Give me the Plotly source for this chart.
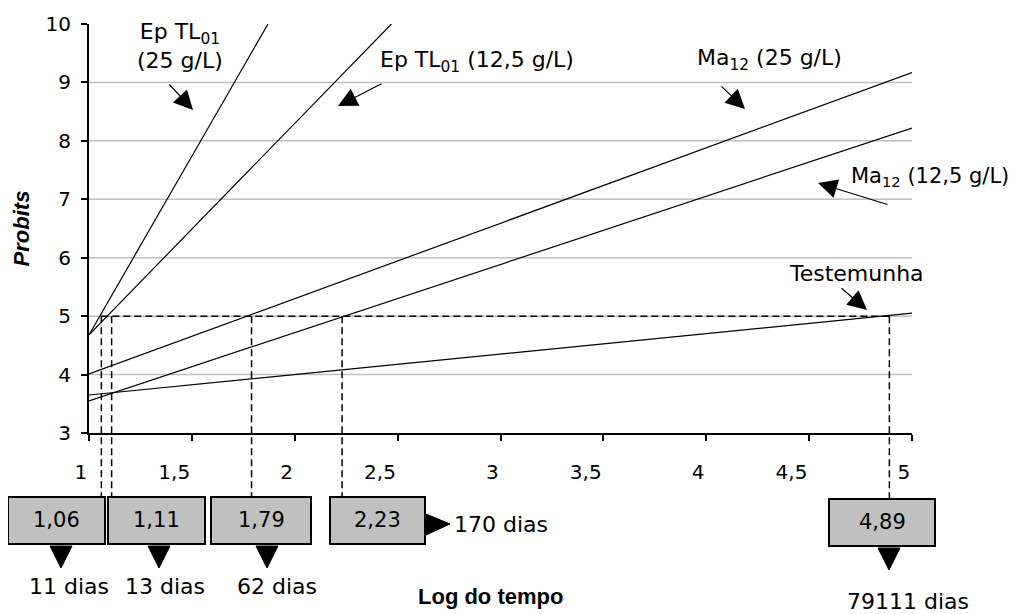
import plotly.graph_objects as go

# ---------------- data ----------------
series_names = ["Ep TL01 (25 g/L)", "Ep TL01 (12,5 g/L)", "Ma12 (25 g/L)", "Ma12 (12,5 g/L)", "Testemunha"]
x_start = [1.0, 1.0, 1.0, 1.0, 1.0]
x_end = [1.87, 2.47, 5.0, 5.0, 5.0]
y_start = [4.68, 4.68, 4.01, 3.55, 3.65]
y_end = [10.0, 10.0, 9.17, 8.22, 5.05]

ld50_values = [1.06, 1.11, 1.79, 2.23, 4.89]
ld50_days = ["11 dias", "13 dias", "62 dias", "170 dias", "79111 dias"]
probit_level = 5

x_tickvals = [1, 1.5, 2, 2.5, 3, 3.5, 4, 4.5, 5]
x_ticktext = ["1", "1,5", "2", "2,5", "3", "3,5", "4", "4,5", "5"]
y_tickvals = [3, 4, 5, 6, 7, 8, 9, 10]
grid_vals = [4, 5, 6, 7, 8, 9]

# ---------------- layout helpers (reference pixel -> paper) ----------------
OFF = 8  # page body margin
W, H = 1020 - OFF, 614 - OFF
RPL, RPR, RPT, RPB = 89, 912, 24, 433  # plot area in reference pixels


def fx(px):
    return (px - RPL) / (RPR - RPL)


def fy(py):
    return (RPB - py) / (RPB - RPT)


FONT = "DejaVu Sans"
fig = go.Figure()

for i, name in enumerate(series_names):
    fig.add_trace(go.Scatter(
        x=[x_start[i], x_end[i]], y=[y_start[i], y_end[i]],
        mode="lines", name=name, line=dict(color="black", width=1.2),
        showlegend=False, hoverinfo="skip"))

shapes = []
# grid lines
for g in grid_vals:
    shapes.append(dict(type="line", xref="x", yref="y", x0=1, x1=5, y0=g, y1=g,
                       line=dict(color="#c0c0c0", width=1.5), layer="below"))
# horizontal probit 5 dashed line
shapes.append(dict(type="line", xref="x", yref="y", x0=min(ld50_values), x1=max(ld50_values),
                   y0=probit_level, y1=probit_level,
                   line=dict(color="black", width=1.5, dash="7px,4px")))
# vertical dashed lines down to boxes
box_top = [497, 497, 497, 497, 499]
y5_paper = (probit_level - 3) / 7
for v, bt in zip(ld50_values, box_top):
    shapes.append(dict(type="line", xref="x", yref="paper", x0=v, x1=v,
                       y0=y5_paper, y1=fy(bt),
                       line=dict(color="black", width=1.5, dash="7px,4px")))

# boxes (layout positions in reference px)
box_x = [(8, 105), (108, 205), (211, 311), (330, 425), (829, 935)]
box_y = [(497, 544), (497, 544), (497, 544), (497, 544), (499, 546)]
for (x0, x1), (y0, y1) in zip(box_x, box_y):
    shapes.append(dict(type="rect", xref="paper", yref="paper",
                       x0=fx(x0), x1=fx(x1), y0=fy(y0), y1=fy(y1),
                       fillcolor="#c0c0c0", line=dict(color="black", width=2)))

# down triangles under boxes
tri_cx = [61, 159, 267, None, 889]
for cx, (y0, y1) in zip(tri_cx, box_y):
    if cx is None:
        continue
    top = y1 + 2
    bot = top + 22
    shapes.append(dict(type="path", xref="paper", yref="paper",
                       path=f"M {fx(cx-11)},{fy(top)} L {fx(cx+11)},{fy(top)} L {fx(cx)},{fy(bot)} Z",
                       fillcolor="black", line=dict(color="black", width=1)))
# right triangle after box 4
shapes.append(dict(type="path", xref="paper", yref="paper",
                   path=f"M {fx(426)},{fy(514)} L {fx(426)},{fy(535)} L {fx(450)},{fy(524)} Z",
                   fillcolor="black", line=dict(color="black", width=1)))

annotations = []


def txt(text, px, py, size=22, xanchor="center", **kw):
    annotations.append(dict(text=text, xref="paper", yref="paper", x=fx(px), y=fy(py),
                            xanchor=xanchor, yanchor="middle", showarrow=False,
                            font=dict(family=FONT, size=size, color="black"), **kw))


# box labels
box_label_c = [(56, 520), (156, 520), (261, 520), (377, 520), (882, 522)]
for v, (cx, cy) in zip(ld50_values, box_label_c):
    txt(f"{v:.2f}".replace(".", ","), cx, cy, size=21)

# day labels
day_pos = [(69, 586, "center"), (165, 586, "center"), (277, 586, "center"),
           (452, 524, "left"), (908, 601, "center")]
for d, (cx, cy, anc) in zip(ld50_days, day_pos):
    txt(d, cx, cy, size=22, xanchor=anc)

# series labels
txt("Ep TL<sub>01</sub><br>(25 g/L)", 180, 46, size=22)
txt("Ep TL<sub>01</sub> (12,5 g/L)", 477, 62, size=22)
txt("Ma<sub>12</sub> (25 g/L)", 769, 60, size=22)
txt("Ma<sub>12</sub> (12,5 g/L)", 930, 177, size=21)
txt("Testemunha", 856, 273, size=22)

# x axis title
annotations.append(dict(text="<b>Log do tempo</b>", xref="paper", yref="paper",
                        x=fx(490), y=fy(596), xanchor="center", yanchor="middle",
                        showarrow=False,
                        font=dict(family="Liberation Sans", size=22, color="black")))

# arrows (tail px, tip px)
arrows = [((168, 83), (193, 110)), ((383, 83), (338, 106)), ((720, 85), (745, 109)),
          ((889, 205), (818, 183)), ((840, 287), (867, 310))]
for (tx, ty), (hx, hy) in arrows:
    annotations.append(dict(text="", xref="paper", yref="paper", x=fx(hx), y=fy(hy),
                            ax=tx - hx, ay=ty - hy, showarrow=True, arrowhead=2,
                            arrowsize=3.2, arrowwidth=1.2, arrowcolor="black"))

fig.update_layout(
    width=W, height=H,
    margin=dict(l=RPL - OFF, r=1020 - RPR, t=RPT - OFF, b=614 - RPB, autoexpand=False),
    paper_bgcolor="white", plot_bgcolor="white",
    shapes=shapes, annotations=annotations,
    xaxis=dict(range=[1, 5], tickvals=x_tickvals, ticktext=x_ticktext,
               ticks="outside", ticklen=6, tickwidth=1.5, tickcolor="black",
               showline=True, linecolor="black", linewidth=2, showgrid=False, zeroline=False,
               ticklabelposition="outside left", ticklabelstandoff=20,
               tickfont=dict(family=FONT, size=20, color="black")),
    yaxis=dict(range=[3, 10], tickvals=y_tickvals, ticks="outside", ticklen=6,
               tickwidth=1.5, tickcolor="black",
               showline=True, linecolor="black", linewidth=2, showgrid=False, zeroline=False,
               ticklabelstandoff=6,
               tickfont=dict(family=FONT, size=20, color="black"),
               title=dict(text="Probits", standoff=10,
                          font=dict(family="Liberation Sans", size=22, color="black",
                                    weight="bold", style="italic"))),
)

fig.write_html("out.html")
